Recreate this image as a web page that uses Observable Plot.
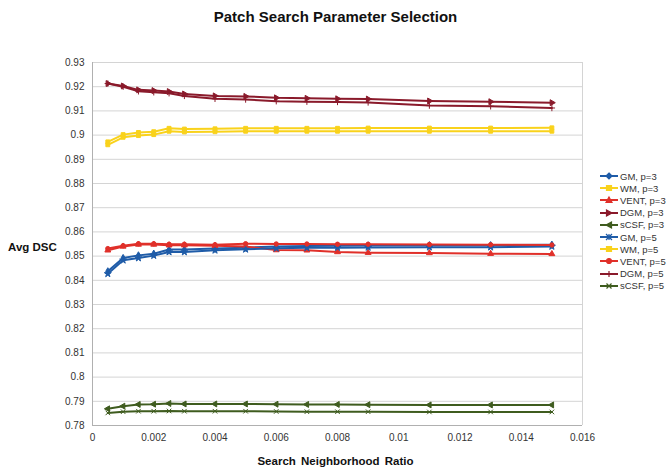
<!DOCTYPE html>
<html><head><meta charset="utf-8">
<script src="https://cdn.jsdelivr.net/npm/d3@7"></script>
<script src="https://cdn.jsdelivr.net/npm/@observablehq/plot@0.6"></script>
<style>
body{margin:0;background:#fff;font-family:"Liberation Sans",Arial,sans-serif;}
#wrap{position:relative;width:671px;height:476px;overflow:hidden;}
#title{position:absolute;left:0;width:671px;top:8px;text-align:center;font-weight:bold;font-size:15px;color:#111;}
#ylab{position:absolute;left:8px;top:241px;font-weight:bold;font-size:11.5px;color:#111;}
#xlab{position:absolute;left:0;width:671px;top:455px;text-align:center;font-weight:bold;font-size:11.5px;color:#111;word-spacing:2px;}
#legend{position:absolute;left:600px;top:170px;font-size:9.5px;color:#333;}
.li{height:12.2px;display:flex;align-items:center;white-space:nowrap;}
.li svg{margin-right:2px;}
</style></head>
<body><div id="wrap"><div id="chart"></div>
<div id="title">Patch Search Parameter Selection</div>
<div id="ylab">Avg DSC</div>
<div id="xlab">Search Neighborhood  Ratio</div>
<div id="legend"></div>
</div>
<script>
const ratios = [0.0005,0.001,0.0015,0.002,0.0025,0.003,0.004,0.005,0.006,0.007,0.008,0.009,0.011,0.013,0.015];
const seriesNames = ["GM, p=3","WM, p=3","VENT, p=3","DGM, p=3","sCSF, p=3","GM, p=5","WM, p=5","VENT, p=5","DGM, p=5","sCSF, p=5"];
const gm3   = [0.8437,0.8492,0.8503,0.8510,0.8527,0.8527,0.8531,0.8535,0.8540,0.8542,0.8543,0.8544,0.8545,0.8545,0.8547];
const wm3   = [0.8972,0.9002,0.9011,0.9014,0.9028,0.9025,0.9026,0.9028,0.9028,0.9028,0.9028,0.9029,0.9029,0.9029,0.9030];
const vent3 = [0.8524,0.8540,0.8548,0.8548,0.8545,0.8545,0.8543,0.8540,0.8525,0.8524,0.8517,0.8514,0.8513,0.8510,0.8509];
const dgm3  = [0.9213,0.9203,0.9187,0.9184,0.9180,0.9170,0.9162,0.9160,0.9154,0.9152,0.9150,0.9149,0.9141,0.9138,0.9134];
const csf3  = [0.7869,0.7880,0.7887,0.7888,0.7891,0.7889,0.7889,0.7889,0.7888,0.7887,0.7887,0.7886,0.7885,0.7885,0.7885];
const gm5   = [0.8427,0.8483,0.8492,0.8502,0.8517,0.8517,0.8524,0.8528,0.8532,0.8534,0.8535,0.8536,0.8537,0.8537,0.8540];
const wm5   = [0.8960,0.8991,0.8998,0.9002,0.9016,0.9013,0.9014,0.9016,0.9016,0.9016,0.9016,0.9016,0.9016,0.9016,0.9016];
const vent5 = [0.8531,0.8543,0.8551,0.8551,0.8549,0.8549,0.8547,0.8551,0.8550,0.8550,0.8549,0.8549,0.8548,0.8547,0.8546];
const dgm5  = [0.9213,0.9200,0.9181,0.9177,0.9173,0.9162,0.9150,0.9147,0.9140,0.9138,0.9137,0.9135,0.9122,0.9119,0.9112];
const csf5  = [0.7852,0.7857,0.7859,0.7859,0.7860,0.7859,0.7859,0.7859,0.7858,0.7857,0.7857,0.7857,0.7856,0.7856,0.7856];
const xTicks = [0,0.002,0.004,0.006,0.008,0.01,0.012,0.014,0.016];
const yTicks = [0.78,0.79,0.8,0.81,0.82,0.83,0.84,0.85,0.86,0.87,0.88,0.89,0.9,0.91,0.92,0.93];

const values = [gm3,wm3,vent3,dgm3,csf3,gm5,wm5,vent5,dgm5,csf5];
const colors = ["#1f5ca8","#f9d21c","#e0302a","#8a1a2b","#3f5c1f","#1f5ca8","#f9d21c","#e0302a","#8a1a2b","#3f5c1f"];
const symbols = ["diamond","square","triangle","triangle","triangle","star","square","circle","plus","times"];
const rotates = [0,0,0,90,-90,0,0,0,0,0];

const data = [];
values.forEach((vals,i)=>vals.forEach((v,j)=>data.push({series:seriesNames[i], idx:i, x:ratios[j], y:v})));

const marks = [
  Plot.ruleY(yTicks, {stroke:"#d4d4d4", strokeWidth:1}),
  Plot.ruleX([0.016], {stroke:"#d4d4d4"}),
  Plot.ruleX([0], {stroke:"#b0b0b0"}),
  Plot.ruleY([0.78], {stroke:"#b0b0b0"}),
];
values.forEach((vals,i)=>{
  const d = data.filter(r=>r.idx===i);
  marks.push(Plot.line(d,{x:"x",y:"y",stroke:colors[i],strokeWidth:2}));
  marks.push(Plot.dot(d,{x:"x",y:"y",stroke:colors[i],fill:colors[i],r:2.2,symbol:()=>symbols[i],rotate:rotates[i],strokeWidth:1}));
});

const chart = Plot.plot({
  width:671, height:476,
  marginLeft:92, marginRight:89, marginTop:62, marginBottom:51,
  style:{fontFamily:"Liberation Sans, Arial, sans-serif", fontSize:"10px", color:"#333", background:"#fff"},
  x:{domain:[0,0.016], ticks:xTicks, tickFormat:d=>d===0?"0":d3.format("~g")(d), tickSize:0, tickPadding:8, label:null},
  y:{domain:[0.78,0.93], ticks:yTicks, tickFormat:d=>d3.format("~g")(+d.toFixed(2)), tickSize:0, tickPadding:8, label:null},
  symbol:{type:"identity"},
  marks
});
document.getElementById("chart").appendChild(chart);

const leg = document.getElementById("legend");
const symPath = {
  diamond:"M0,-3L3,0L0,3L-3,0Z", square:"M-2.5,-2.5h5v5h-5Z", triangle:"M0,-3L3,2.5L-3,2.5Z",
  star:"M-3,-3L3,3M-3,3L3,-3M0,-3V3", circle:"M-2.5,0A2.5,2.5 0 1,0 2.5,0A2.5,2.5 0 1,0 -2.5,0", plus:"M-3,0H3M0,-3V3", times:"M-2.5,-2.5L2.5,2.5M-2.5,2.5L2.5,-2.5"
};
seriesNames.forEach((n,i)=>{
  const div=document.createElement("div"); div.className="li";
  div.innerHTML=`<svg width="18" height="10"><line x1="0" y1="5" x2="18" y2="5" stroke="${colors[i]}" stroke-width="2"/><path transform="translate(9,5) rotate(${rotates[i]})" d="${symPath[symbols[i]]}" fill="${colors[i]}" stroke="${colors[i]}" stroke-width="1.2"/></svg><span>${n}</span>`;
  leg.appendChild(div);
});
</script></body></html>
